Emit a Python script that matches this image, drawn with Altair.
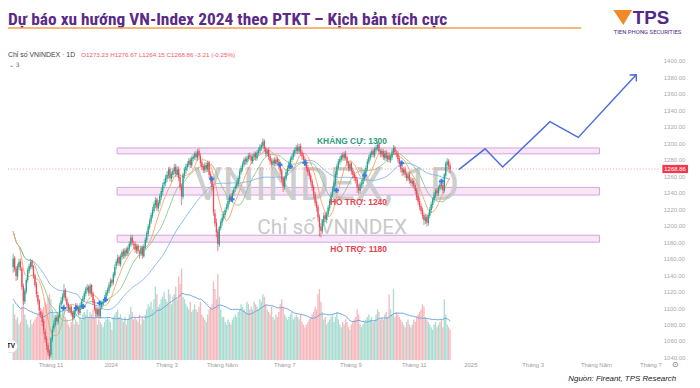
import altair as alt
import pandas as pd

# ---------------- data ----------------
opens = [
1216,1219,1225,1213,1186,1150,1161,1148,1138,1150,
1157,1148,1127,1108,1120,1134,1145,1150,1157,1151,
1140,1129,1116,1109,1096,1092,1084,1072,1063,1055,
1047,1043,1062,1075,1080,1089,1083,1090,1104,1108,
1113,1122,1111,1105,1097,1102,1094,1088,1096,1103,
1100,1094,1102,1109,1111,1117,1122,1126,1118,1128,
1118,1108,1100,1092,1099,1090,1101,1105,1109,1112,
1118,1121,1127,1134,1131,1140,1151,1155,1162,1153,
1162,1169,1163,1171,1166,1172,1177,1186,1178,1178,
1170,1176,1168,1166,1174,1163,1174,1182,1190,1198,
1205,1212,1218,1225,1232,1221,1227,1235,1241,1250,
1252,1257,1261,1269,1257,1262,1266,1272,1262,1269,
1259,1248,1235,1261,1267,1271,1274,1280,1273,1281,
1283,1288,1282,1291,1285,1277,1272,1267,1274,1268,
1277,1263,1256,1248,1215,1204,1193,1177,1197,1204,
1209,1213,1220,1222,1229,1236,1231,1239,1245,1247,
1251,1257,1265,1269,1274,1281,1277,1281,1286,1284,
1278,1283,1288,1282,1288,1291,1295,1297,1303,1294,
1287,1292,1284,1279,1274,1280,1275,1281,1278,1274,
1267,1258,1247,1257,1264,1269,1275,1280,1283,1288,
1291,1296,1290,1297,1289,1285,1281,1277,1271,1266,
1261,1254,1247,1238,1229,1223,1211,1199,1193,1204,
1213,1207,1214,1221,1229,1237,1244,1251,1262,1271,
1277,1280,1286,1282,1288,1283,1277,1269,1276,1267,
1263,1259,1256,1247,1242,1249,1251,1257,1264,1269,
1277,1282,1286,1291,1285,1292,1294,1299,1291,1286,
1290,1282,1289,1281,1286,1279,1283,1289,1295,1288,
1288,1282,1276,1270,1264,1269,1263,1257,1262,1256,
1251,1255,1249,1243,1236,1230,1224,1219,1213,1206,
1211,1203,1212,1219,1225,1231,1237,1243,1239,1245,
1251,1249,1242,1261,1274,1279,1273.23]

highs = [
1226,1229,1227,1215,1190,1166,1163,1151,1154,1160,
1160,1150,1130,1124,1137,1149,1154,1160,1159,1152,
1142,1132,1120,1111,1100,1095,1087,1075,1066,1058,
1050,1065,1078,1085,1092,1092,1094,1106,1113,1118,
1129,1124,1114,1107,1104,1104,1097,1100,1106,1106,
1103,1106,1111,1115,1121,1126,1129,1128,1130,1129,
1120,1111,1103,1101,1101,1103,1109,1111,1116,1122,
1125,1131,1136,1136,1144,1153,1159,1165,1164,1166,
1171,1172,1173,1174,1176,1181,1189,1189,1182,1181,
1178,1178,1171,1176,1176,1178,1186,1194,1202,1209,
1216,1223,1229,1235,1234,1231,1239,1246,1252,1257,
1262,1266,1271,1272,1266,1270,1275,1275,1272,1272,
1262,1251,1264,1271,1275,1278,1282,1283,1285,1287,
1290,1291,1293,1294,1288,1280,1275,1277,1277,1279,
1279,1266,1258,1250,1220,1209,1196,1200,1208,1214,
1218,1222,1227,1233,1238,1239,1243,1247,1251,1255,
1261,1269,1273,1278,1283,1284,1285,1288,1289,1287,
1287,1290,1290,1292,1295,1299,1301,1306,1305,1296,
1294,1295,1287,1282,1282,1283,1283,1284,1281,1276,
1269,1260,1261,1268,1273,1279,1284,1287,1292,1295,
1298,1300,1299,1300,1292,1288,1284,1280,1274,1269,
1264,1257,1250,1241,1232,1226,1214,1203,1208,1216,
1216,1218,1225,1233,1241,1248,1255,1266,1275,1281,
1284,1288,1289,1290,1291,1285,1279,1278,1278,1270,
1266,1262,1259,1251,1253,1256,1261,1268,1273,1281,
1286,1290,1293,1294,1296,1298,1302,1301,1293,1294,
1293,1291,1292,1288,1289,1287,1293,1298,1297,1292,
1291,1285,1279,1273,1271,1272,1266,1264,1265,1259,
1258,1258,1252,1246,1239,1233,1227,1222,1216,1214,
1214,1216,1223,1229,1235,1241,1245,1246,1249,1253,
1254,1252,1264,1278,1282,1281,1276.67]

lows = [
1212,1215,1211,1185,1139,1143,1144,1133,1134,1146,
1145,1122,1104,1105,1117,1131,1142,1147,1147,1136,
1125,1113,1104,1092,1087,1078,1068,1058,1049,1042,
1038,1040,1059,1071,1077,1080,1080,1088,1100,1105,
1110,1108,1100,1094,1094,1090,1085,1086,1093,1096,
1091,1091,1099,1105,1108,1114,1119,1115,1115,1114,
1104,1096,1089,1089,1087,1087,1098,1102,1106,1109,
1115,1118,1124,1126,1128,1137,1147,1152,1151,1150,
1159,1160,1160,1163,1163,1169,1174,1176,1172,1167,
1166,1166,1160,1163,1160,1161,1171,1179,1187,1195,
1202,1209,1215,1221,1218,1217,1224,1231,1237,1245,
1248,1253,1257,1254,1253,1258,1262,1259,1259,1254,
1243,1225,1232,1257,1263,1267,1271,1270,1270,1278,
1280,1279,1279,1282,1272,1267,1264,1264,1265,1265,
1258,1251,1243,1212,1199,1186,1169,1174,1194,1200,
1206,1210,1216,1219,1226,1229,1228,1236,1241,1244,
1248,1254,1262,1266,1271,1274,1274,1278,1280,1275,
1275,1280,1279,1279,1285,1288,1291,1294,1290,1284,
1284,1280,1274,1271,1271,1272,1272,1274,1269,1262,
1253,1241,1244,1254,1261,1266,1272,1277,1280,1284,
1288,1287,1287,1285,1280,1276,1272,1266,1261,1256,
1249,1242,1233,1224,1217,1205,1187,1186,1190,1200,
1204,1203,1211,1218,1226,1234,1241,1248,1259,1268,
1274,1277,1279,1279,1279,1272,1266,1266,1262,1257,
1254,1251,1240,1238,1239,1245,1247,1254,1261,1266,
1274,1279,1283,1283,1282,1289,1291,1287,1283,1283,
1280,1279,1279,1277,1277,1276,1280,1286,1286,1283,
1277,1271,1265,1260,1261,1258,1254,1254,1251,1248,
1247,1245,1238,1231,1225,1219,1214,1208,1201,1202,
1199,1200,1209,1215,1221,1228,1234,1236,1236,1242,
1244,1239,1240,1258,1270,1268,1264.15]

closes = [
1220,1224,1214,1188,1152,1160,1147,1139,1151,1156,
1149,1126,1109,1121,1134,1146,1151,1156,1150,1139,
1128,1117,1108,1097,1091,1083,1073,1062,1054,1046,
1041,1063,1074,1081,1088,1084,1091,1103,1109,1114,
1121,1112,1104,1098,1101,1093,1089,1097,1102,1099,
1095,1103,1108,1112,1118,1123,1125,1119,1127,1117,
1107,1099,1093,1098,1091,1100,1106,1108,1113,1119,
1122,1128,1133,1130,1141,1150,1156,1161,1154,1163,
1168,1164,1170,1167,1173,1178,1185,1179,1177,1171,
1175,1169,1167,1173,1164,1175,1183,1191,1199,1206,
1213,1219,1226,1231,1222,1228,1236,1242,1249,1253,
1258,1262,1268,1258,1263,1267,1271,1263,1268,1258,
1247,1236,1262,1268,1272,1275,1279,1274,1282,1284,
1287,1283,1290,1285,1276,1271,1268,1273,1269,1276,
1262,1255,1247,1216,1203,1192,1178,1198,1205,1210,
1214,1219,1223,1230,1235,1232,1240,1244,1248,1252,
1258,1266,1270,1275,1280,1278,1282,1285,1283,1279,
1284,1287,1283,1289,1292,1296,1298,1302,1293,1288,
1291,1283,1278,1275,1279,1276,1280,1277,1273,1266,
1257,1248,1258,1265,1270,1276,1281,1284,1289,1292,
1295,1291,1296,1288,1284,1280,1276,1270,1265,1260,
1253,1246,1237,1228,1222,1210,1198,1194,1205,1212,
1208,1215,1222,1230,1238,1245,1252,1263,1272,1278,
1281,1285,1283,1287,1282,1276,1270,1275,1266,1262,
1258,1255,1246,1243,1250,1252,1258,1265,1270,1278,
1283,1287,1290,1286,1293,1295,1298,1290,1287,1291,
1283,1288,1282,1285,1280,1284,1290,1294,1289,1287,
1281,1275,1269,1265,1268,1262,1258,1261,1255,1252,
1254,1248,1242,1235,1229,1223,1218,1212,1207,1210,
1204,1213,1220,1226,1232,1238,1242,1240,1246,1250,
1248,1243,1262,1275,1278,1272,1268.86]

volumes = [
1150,1050,900,1400,1600,1100,900,800,850,700,
750,1050,1200,900,800,700,650,800,700,750,
800,850,900,950,800,1000,1050,1150,1100,1250,
1300,1200,1000,900,850,700,800,950,900,1000,
1100,850,800,700,650,750,850,700,800,750,
700,850,800,900,950,900,1000,850,950,900,
1000,850,900,700,800,750,700,650,750,800,
850,800,750,600,850,900,950,1000,850,900,
800,750,850,700,800,900,1050,950,800,850,
800,750,900,700,850,800,900,1000,1100,1050,
1150,1000,1200,1450,1300,1050,1100,1200,1250,1350,
1200,1150,1400,1300,1100,1250,1300,1450,1200,1650,
1500,1800,1250,1200,1100,1050,1000,1150,950,1000,
1100,1000,950,1050,1150,900,850,800,750,900,
1000,1050,1100,1550,1400,1200,1700,1250,1000,850,
850,750,700,800,750,700,800,850,900,850,
950,1000,1100,1050,1000,950,1150,1100,1000,1050,
1000,1150,1100,1050,1000,1200,1150,1300,1250,1100,
1000,950,900,1050,850,800,900,850,950,1100,
1200,1050,900,850,800,850,900,950,800,850,
900,850,800,900,750,700,650,700,750,800,
850,900,950,1050,1000,1300,1400,1150,950,800,
850,700,750,800,850,900,750,850,950,800,
700,650,750,700,800,750,650,600,700,750,
800,850,1000,900,700,650,700,750,800,850,
900,800,850,750,800,900,1000,950,800,850,
800,900,950,850,1300,1000,900,1400,850,950,
900,850,800,750,700,650,750,800,700,650,
700,800,750,850,900,950,1000,1100,1050,850,
800,750,700,650,600,700,750,650,700,750,
800,650,1200,900,700,650,600]

signal_bar = [2.8, 39.7, 48.5, 53.2, 64.6, 68.6, 141.7, 155.8, 188.7, 196.1,
              206.0, 227.7, 247.1, 272.6, 300.1]
signal_price = [1217, 1100, 1100, 1102, 1106, 1110, 1257, 1232, 1274, 1272,
                1276, 1243, 1261, 1276, 1254]

forecast_bar = [312, 330.1, 342.2, 374.8, 394.3, 434.2]
forecast_price = [1268, 1293.3, 1271.2, 1326.4, 1307.2, 1383.3]

band_kind = ["res", "sup", "sup"]
band_label = ["KHÁNG CỰ: 1300", "HỖ TRỢ: 1240", "HỖ TRỢ: 1180"]
band_low = [1287.3, 1237.2, 1180.0]
band_high = [1294.4, 1246.5, 1188.4]

price_ticks = [1040, 1060, 1080, 1100, 1120, 1140, 1160, 1180, 1200, 1220,
               1240, 1260, 1280, 1300, 1320, 1340, 1360, 1380, 1400]

month_bar = [31, 72.6, 110.9, 149.1, 192.1, 237.7, 281.3, 320.3, 363.2, 406.8, 444.4]
month_label = ["Tháng 11", "2024", "Tháng 3", "Tháng Năm", "Tháng 7", "Tháng 9",
               "Tháng 11", "2025", "Tháng 3", "Tháng Năm", "Tháng 7"]

TITLE = "Dự báo xu hướng VN-Index 2024 theo PTKT – Kịch bản tích cực"
SYMBOL = "Chỉ số VNINDEX · 1D"
OHLC = "O1273.23  H1276.67  L1264.15  C1268.86  -3.21 (-0.25%)"
SOURCE = "Nguồn: Fireant, TPS Research"

# ---------------- tables ----------------
N = min(len(opens), len(highs), len(lows), len(closes), len(volumes))
candles = pd.DataFrame({
    "bar": list(range(N)),
    "open": opens[:N], "high": highs[:N], "low": lows[:N],
    "close": closes[:N], "volume": volumes[:N],
})
signals = pd.DataFrame({"bar": signal_bar, "price": signal_price})
forecast = pd.DataFrame({"bar": forecast_bar, "price": forecast_price})
bands = pd.DataFrame({"kind": band_kind, "label": band_label,
                      "low": band_low, "high": band_high})
months = pd.DataFrame({"bar": month_bar, "label": month_label})
last = pd.DataFrame({"price": [closes[N - 1]]})

# ---------------- styling ----------------
W, H = 692, 354
XMIN, XMAX = 4.83, 469.26
xs = alt.Scale(domain=[XMIN, XMAX], nice=False, zero=False)
ys = alt.Scale(domain=[1036.84, 1461.64], nice=False, zero=False)
vs = alt.Scale(domain=[0, 6900], nice=False, zero=True)
VISIBLE = f"datum.bar >= {XMIN}"

GREEN, RED = "#26a18a", "#ef4856"
VGREEN, VRED = "#a9ddd2", "#f7b8bd"
FONT = "Liberation Sans"

X = alt.X("bar:Q", scale=xs, axis=None)
updown = alt.condition("datum.close >= datum.open", alt.value(GREEN), alt.value(RED))
vupdown = alt.condition("datum.close >= datum.open", alt.value(VGREEN), alt.value(VRED))
base = alt.Chart(candles)
shown = base.transform_filter(VISIBLE)


def txt(s, x, y, **kw):
    return alt.Chart(pd.DataFrame({"t": [s]})).mark_text(**kw).encode(
        x=alt.value(x), y=alt.value(y), text="t:N")


band_rects = alt.Chart(bands).transform_calculate(b0="76.6", b1="408.9").mark_rect(
    fill="#f8e6f6", stroke="#d2a3e2", strokeWidth=1).encode(
    x=alt.X("b0:Q", scale=xs, axis=None), x2="b1",
    y=alt.Y("low:Q", scale=ys, axis=None), y2="high")

wm1 = txt("VNINDEX, 1D", 322, 178, font="Roboto", fontSize=46, color="#c9c9c9",
          align="center", baseline="middle", opacity=0.9)
wm2 = txt("Chỉ số VNINDEX", 328, 220, font="Roboto", fontSize=21, color="#c4c4c4",
          align="center", baseline="middle", opacity=0.9)

vol = shown.mark_bar(size=1.35).encode(
    x=X, y=alt.Y("volume:Q", scale=vs, axis=None), color=vupdown)
vol_ma = base.transform_window(vma="mean(volume)", frame=[-19, 0],
                               sort=[alt.SortField("bar")]).transform_filter(
    VISIBLE).mark_line(color="#6ea6df", strokeWidth=1).encode(
    x=X, y=alt.Y("vma:Q", scale=vs, axis=None))


def ma(n, color):
    return base.transform_window(m="mean(close)", frame=[-(n - 1), 0],
                                 sort=[alt.SortField("bar")]).transform_filter(
        VISIBLE).mark_line(color=color, strokeWidth=0.9).encode(
        x=X, y=alt.Y("m:Q", scale=ys, axis=None))


ma50 = ma(50, "#7fb2ea")
ma20 = ma(20, "#86c78a")
ma10 = ma(10, "#f4a462")

wicks = shown.mark_rule(strokeWidth=0.7).encode(
    x=X,
    y=alt.Y("low:Q", scale=ys, axis=alt.Axis(
        orient="right", offset=-29, values=price_ticks, format=".2f", title=None,
        labelFontSize=6, labelColor="#a8a8a8", labelFont=FONT,
        ticks=False, domain=False, grid=False, labelPadding=0)),
    y2="high", color=updown)
bodies = shown.mark_bar(size=1.3).encode(
    x=X, y=alt.Y("open:Q", scale=ys, axis=None), y2="close", color=updown)

price_line = alt.Chart(last).mark_rule(color=RED, strokeDash=[1, 2], strokeWidth=0.8,
                                       opacity=0.7).encode(
    y=alt.Y("price:Q", scale=ys, axis=None), x=alt.value(0), x2=alt.value(660))
price_box = alt.Chart(last).transform_calculate(
    top="datum.price + 5", bot="datum.price - 5").mark_rect(color="#f0394a").encode(
    y=alt.Y("top:Q", scale=ys, axis=None), y2="bot", x=alt.value(662), x2=alt.value(688))
price_txt = alt.Chart(last).mark_text(color="white", fontSize=6, font=FONT,
                                      align="left", baseline="middle").encode(
    y=alt.Y("price:Q", scale=ys, axis=None), x=alt.value(664),
    text=alt.Text("price:Q", format=".2f"))

sig = alt.Chart(signals).transform_filter(VISIBLE).mark_point(
    shape="cross", filled=True, size=26, color="#2f80e6", opacity=1).encode(
    x=X, y=alt.Y("price:Q", scale=ys, axis=None))

fc_line = alt.Chart(forecast).mark_line(color="#4a6fdd", strokeWidth=1.5).encode(
    x=X, y=alt.Y("price:Q", scale=ys, axis=None), order="bar:Q")
fc_head = alt.Chart(forecast.iloc[[-1]]).mark_point(
    shape="M-1,1L0,0L1,1", angle=43, size=90, filled=False,
    color="#4a6fdd", strokeWidth=1.5, opacity=1).encode(
    x=X, y=alt.Y("price:Q", scale=ys, axis=None))

res_lbl = alt.Chart(bands).transform_filter("datum.kind == 'res'").transform_calculate(
    lx="262.5").mark_text(align="right", baseline="middle", dy=-7, font=FONT,
                          fontSize=8.5, fontWeight="bold", color="#2e9c7d").encode(
    x=alt.X("lx:Q", scale=xs, axis=None), y=alt.Y("high:Q", scale=ys, axis=None),
    text="label:N")
sup_lbl = alt.Chart(bands).transform_filter("datum.kind == 'sup'").transform_calculate(
    lx="262.5").mark_text(align="right", baseline="middle", dy=7, font=FONT,
                          fontSize=8.5, fontWeight="bold", color="#e4464f").encode(
    x=alt.X("lx:Q", scale=xs, axis=None), y=alt.Y("low:Q", scale=ys, axis=None),
    text="label:N")

month_txt = alt.Chart(months).mark_text(fontSize=6, font=FONT, color="#9c9c9c",
                                        align="center", baseline="middle").encode(
    x=X, y=alt.value(359), text="label:N")
axis_cover = alt.Chart(last).mark_rect(color="white").encode(
    x=alt.value(663), x2=alt.value(692), y=alt.value(354), y2=alt.value(366))

title = txt(TITLE, 0, 14.5, font="Liberation Sans Narrow, Roboto Condensed, Roboto",
            fontSize=17.6, fontWeight="bold", color="#5a2b88", align="left",
            baseline="alphabetic")
title_rule = alt.Chart(last).mark_rule(color="#f3a04e", strokeWidth=1.5).encode(
    x=alt.value(0), x2=alt.value(580), y=alt.value(18))
logo_tri = alt.Chart(last).mark_point(shape="M-1,-0.75L1,-0.75L0.05,0.85Z", size=360,
                                      filled=True, color="#f08a26", opacity=1).encode(
    x=alt.value(622), y=alt.value(7))
logo_tps = txt("TPS", 632, 14, font=FONT, fontSize=19, fontWeight="bold",
               color="#4f2a86", align="left", baseline="alphabetic")
logo_sub = txt("TIEN PHONG SECURITIES", 647, 22, font="Liberation Sans Narrow, Roboto",
               fontSize=6, color="#4f2a86", align="center", baseline="middle")

sym = txt(SYMBOL, 0, 45.5, font=FONT, fontSize=7, color="#404040",
          align="left", baseline="middle")
ohlc = txt(OHLC, 74, 45.5, font=FONT, fontSize=6.3, color="#ef5b67",
           align="left", baseline="middle")
sub3 = txt("⌄ 3", 1, 55, font="DejaVu Sans", fontSize=6, color="#606060",
           align="left", baseline="middle")
source = txt(SOURCE, 676, 373, font=FONT, fontSize=8, fontStyle="italic",
             color="#222222", align="right", baseline="middle")
gear = txt("⊙", 675, 359, font="DejaVu Sans", fontSize=8, color="#666666",
           align="center", baseline="middle")
tv_circle = alt.Chart(last).mark_point(shape="circle", size=170, filled=True,
                                       color="white", stroke="#dddddd",
                                       strokeWidth=0.8, opacity=1).encode(
    x=alt.value(3), y=alt.value(340))
tv_txt = txt("TV", 3, 340, font=FONT, fontSize=6.5, fontWeight="bold",
             color="#111111", align="center", baseline="middle")

chart = alt.layer(
    band_rects, wm1, wm2, vol, vol_ma, ma50, ma20, ma10, price_line,
    wicks, bodies, sig, fc_line, fc_head, res_lbl, sup_lbl,
    price_box, price_txt, month_txt, axis_cover, gear,
    title, title_rule, logo_tri, logo_tps, logo_sub, sym, ohlc, sub3, source,
    tv_circle, tv_txt,
).resolve_scale(y="independent").properties(
    width=W, height=H,
    padding={"left": 0, "top": 0, "right": 0, "bottom": 26},
    autosize=alt.AutoSizeParams(type="none"),
    background="white",
).configure_view(stroke=None)

chart.save("out.html", embed_options={"renderer": "svg", "actions": False})
